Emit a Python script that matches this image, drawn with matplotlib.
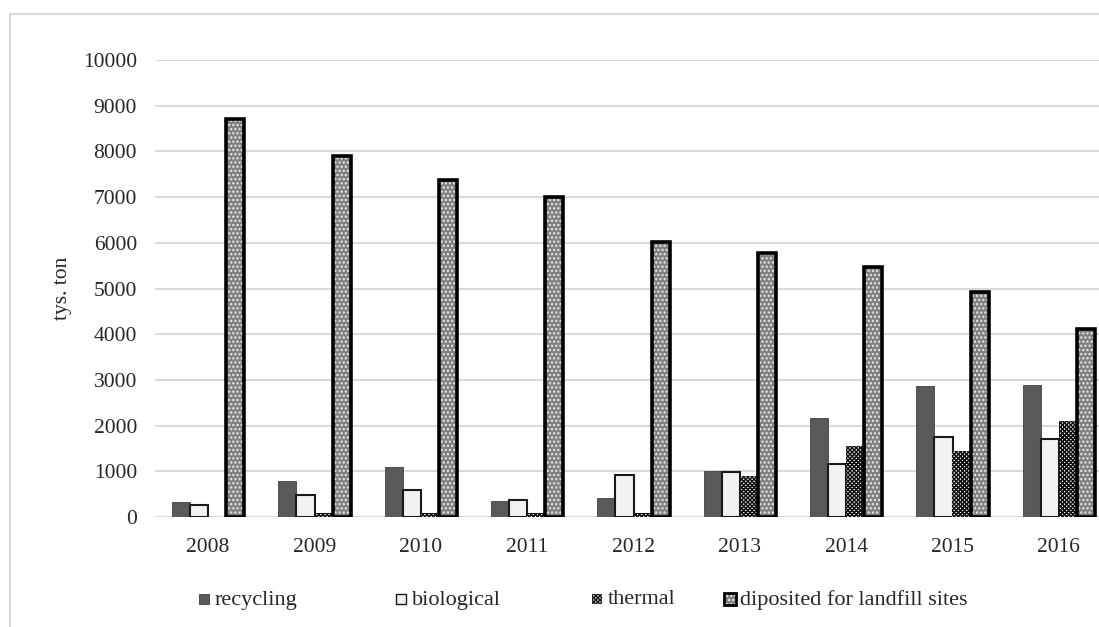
import matplotlib.pyplot as plt
import numpy as np
from matplotlib.patches import Rectangle

plt.rcParams['font.family'] = ['Liberation Serif', 'DejaVu Serif']
plt.rcParams['hatch.linewidth'] = 1.1

years = ['2008', '2009', '2010', '2011', '2012', '2013', '2014', '2015', '2016']
recycling = [320, 790, 1100, 345, 425, 1000, 2160, 2870, 2890]
biological = [260, 490, 600, 370, 915, 995, 1150, 1760, 1705]
thermal = [0, 90, 90, 90, 90, 890, 1555, 1450, 2100]
landfill = [8700, 7890, 7380, 7000, 6025, 5780, 5470, 4920, 4115]
series_names = ['recycling', 'biological', 'thermal', 'diposited for landfill sites']

W, H = 1099, 627
fig = plt.figure(figsize=(W / 100, H / 100), dpi=100)

# light frame around the chart area (right and bottom run off the canvas)
fig.patches.append(Rectangle((10 / W, 1 - 650 / H), 1120 / W, 636 / H,
                             transform=fig.transFigure, fill=False,
                             edgecolor='#d9d9d9', linewidth=1.5))

ax = fig.add_axes([155 / W, 1 - 517 / H, (1112 - 155) / W, (517 - 60) / H])

x = np.arange(len(years))
w = 0.17
text_color = '#262626'
thermal_hatch = 'xxxxxxxx'

def draw_bars(ax, xs, vals, kind):
    if kind == 0:
        ax.bar(xs, vals, w, color='#595959', edgecolor='#404040', linewidth=0.6, zorder=3)
    elif kind == 1:
        ax.bar(xs, vals, w, color='#f2f2f2', edgecolor='#1a1a1a', linewidth=1.5, zorder=3)
    elif kind == 2:
        ax.bar(xs, vals, w, color='white', edgecolor='#111111', hatch=thermal_hatch,
               linewidth=0, zorder=3)
    else:
        ax.bar(xs, vals, w, color='#808080', edgecolor='#e8e8e8', hatch='....',
               linewidth=0, zorder=3)
        ax.bar(xs, vals, w, fill=False, edgecolor='black', linewidth=2.6, zorder=4)

for i, vals in enumerate([recycling, biological, thermal, landfill]):
    draw_bars(ax, x + (i - 1.5) * w, vals, i)

ax.set_xlim(-0.5, len(years) - 0.5)
ax.set_ylim(0, 10000)
ax.set_yticks(np.arange(0, 10001, 1000))
ax.set_xticks(x)
ax.set_xticklabels(years)
ax.yaxis.grid(True, color='#d9d9d9', linewidth=1.5, zorder=0)
ax.set_axisbelow(True)
for s in ax.spines.values():
    s.set_visible(False)
ax.axhline(0, color='#d9d9d9', linewidth=1.5, zorder=1)
ax.tick_params(axis='both', length=0, labelsize=15.5, labelcolor=text_color)
ax.tick_params(axis='x', pad=15)
ax.tick_params(axis='y', pad=13)

fig.text(63 / W, 1 - 288 / H, 'tys. ton', rotation=90, ha='center', va='center',
         fontsize=15.5, color=text_color)

# legend row along the bottom
legend_x = [199, 396, 592, 724]
for i, (lx, name) in enumerate(zip(legend_x, series_names)):
    size = 12 if i == 3 else 10
    y0 = 599 - size / 2
    kw = dict(transform=fig.transFigure)
    box = (lx / W, 1 - (y0 + size) / H)
    if i == 0:
        fig.patches.append(Rectangle(box, size / W, size / H,
                                     facecolor='#595959', edgecolor='#404040', lw=0.6, **kw))
    elif i == 1:
        fig.patches.append(Rectangle(box, size / W, size / H,
                                     facecolor='#f2f2f2', edgecolor='#1a1a1a', lw=1.0, **kw))
    elif i == 2:
        fig.patches.append(Rectangle(box, size / W, size / H,
                                     facecolor='white', edgecolor='#111111', hatch=thermal_hatch,
                                     lw=0, **kw))
    else:
        fig.patches.append(Rectangle(box, size / W, size / H,
                                     facecolor='#808080', edgecolor='#e8e8e8', hatch='....',
                                     lw=0, **kw))
        fig.patches.append(Rectangle(box, size / W, size / H,
                                     fill=False, edgecolor='black', lw=2.0, **kw))
    fig.text((lx + 16) / W, 1 - 600 / H, name, ha='left', va='center',
             fontsize=16, color=text_color)

fig.savefig('out.png', dpi=100, facecolor='white')
